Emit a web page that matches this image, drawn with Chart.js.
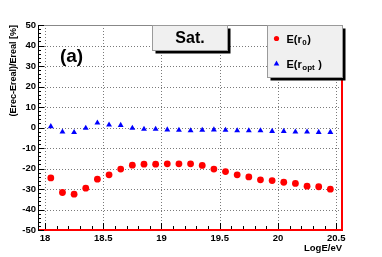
<!DOCTYPE html>
<html>
<head>
<meta charset="utf-8">
<script src="https://cdn.jsdelivr.net/npm/chart.js@4.4.1/dist/chart.umd.min.js"></script>
<style>
  html, body { margin: 0; padding: 0; background: #ffffff; }
  #wrap { width: 382px; height: 257px; }
</style>
</head>
<body>
<div id="wrap"><canvas id="c" width="382" height="257"></canvas></div>
<script>
// ---- data ----
const logE = [18.05, 18.15, 18.25, 18.35, 18.45, 18.55, 18.65, 18.75, 18.85, 18.95,
              19.05, 19.15, 19.25, 19.35, 19.45, 19.55, 19.65, 19.75, 19.85, 19.95,
              20.05, 20.15, 20.25, 20.35, 20.45];
const errR0 = [-24.6, -31.7, -32.5, -29.6, -25.2, -23.1, -20.3, -18.4, -17.9, -17.9,
               -17.7, -17.7, -17.7, -18.5, -20.3, -21.5, -23.1, -24.1, -25.5, -25.9,
               -26.7, -27.3, -28.6, -28.9, -30.1];
const errRopt = [0.5, -2.1, -2.4, -0.3, 2.3, 1.3, 1.1, -0.3, -0.8, -0.8,
                 -1.1, -1.3, -1.5, -1.3, -1.1, -1.3, -1.5, -1.5, -1.5, -1.8,
                 -1.8, -2.1, -2.1, -2.3, -2.3];
const xTickLabels = [18, 18.5, 19, 19.5, 20, 20.5];
const yTickLabels = [-50, -40, -30, -20, -10, 0, 10, 20, 30, 40, 50];
const xTitle = "LogE/eV";
const yTitle = "(Erec-Ereal)/Ereal [%]";
const panelLabel = "(a)";
const boxTitle = "Sat.";
const seriesNames = [{base: "E(r", sub: "0", tail: ")"}, {base: "E(r", sub: "opt", tail: " )"}];

const FONT = '"Liberation Sans", Arial, Helvetica, sans-serif';

const decor = {
  id: 'decor',
  beforeDraw(chart) {
    const ctx = chart.ctx;
    ctx.save();
    ctx.fillStyle = '#ffffff';
    ctx.fillRect(0, 0, chart.width, chart.height);
    ctx.restore();
  },
  beforeDatasetsDraw(chart) {
    const ctx = chart.ctx, a = chart.chartArea;
    const xs = chart.scales.x, ys = chart.scales.y;
    ctx.save();
    ctx.strokeStyle = '#7a7a7a';
    ctx.lineWidth = 1;
    ctx.setLineDash([1, 2]);
    xTickLabels.forEach(v => {
      const px = Math.round(xs.getPixelForValue(v)) + 0.5;
      ctx.beginPath(); ctx.moveTo(px, a.top); ctx.lineTo(px, a.bottom); ctx.stroke();
    });
    yTickLabels.forEach(v => {
      if (v === -50 || v === 50) return;
      const py = Math.round(ys.getPixelForValue(v)) + 0.5;
      ctx.beginPath(); ctx.moveTo(a.left, py); ctx.lineTo(a.right, py); ctx.stroke();
    });
    ctx.restore();
  },
  afterDatasetsDraw(chart) {
    const ctx = chart.ctx, a = chart.chartArea;
    const xs = chart.scales.x, ys = chart.scales.y;
    ctx.save();
    ctx.setLineDash([]);
    // frame
    ctx.strokeStyle = '#888888'; ctx.lineWidth = 1;
    ctx.beginPath(); ctx.moveTo(a.left, a.top + 0.5); ctx.lineTo(a.right, a.top + 0.5); ctx.stroke();
    ctx.strokeStyle = '#ff0000'; ctx.lineWidth = 2;
    ctx.beginPath(); ctx.moveTo(a.right, a.top); ctx.lineTo(a.right, a.bottom + 1); ctx.stroke();
    ctx.beginPath(); ctx.moveTo(a.left, a.bottom); ctx.lineTo(a.right + 1, a.bottom); ctx.stroke();
    ctx.strokeStyle = '#000000'; ctx.lineWidth = 1;
    ctx.beginPath(); ctx.moveTo(a.left + 0.5, a.top); ctx.lineTo(a.left + 0.5, a.bottom); ctx.stroke();
    // y ticks (inside)
    for (let v = -50; v <= 50; v += 2) {
      const py = Math.round(ys.getPixelForValue(v)) + 0.5;
      const len = (v % 10 === 0) ? 6 : 3;
      ctx.beginPath(); ctx.moveTo(a.left, py); ctx.lineTo(a.left + len, py); ctx.stroke();
    }
    // x ticks (inside, pointing up)
    for (let i = 0; i <= 25; i++) {
      const v = 18 + i * 0.1;
      const px = Math.round(xs.getPixelForValue(v)) + 0.5;
      const len = (i % 5 === 0) ? 6 : 3;
      ctx.beginPath(); ctx.moveTo(px, a.bottom - 1); ctx.lineTo(px, a.bottom - 1 - len); ctx.stroke();
    }
    // panel label
    ctx.fillStyle = '#000';
    ctx.font = 'bold 19px ' + FONT;
    ctx.textAlign = 'center'; ctx.textBaseline = 'middle';
    ctx.fillText(panelLabel, 71.5, 57);
    // title box
    const bx = 152.5, by = 25.5, bw = 75, bh = 25;
    ctx.fillStyle = '#000'; ctx.fillRect(bx + 3, by + 3, bw, bh);
    ctx.fillStyle = '#f0f0f0'; ctx.fillRect(bx, by, bw, bh);
    ctx.strokeStyle = '#9a9a9a'; ctx.lineWidth = 1; ctx.strokeRect(bx, by, bw, bh);
    ctx.fillStyle = '#000';
    ctx.font = 'bold 16px ' + FONT;
    ctx.textAlign = 'center'; ctx.textBaseline = 'middle';
    ctx.fillText(boxTitle, bx + bw / 2, by + bh / 2 + 1);
    // legend box
    const lx = 267.5, ly = 25.5, lw = 75, lh = 52;
    ctx.fillStyle = '#000'; ctx.fillRect(lx + 3, ly + 3, lw, lh);
    ctx.fillStyle = '#f0f0f0'; ctx.fillRect(lx, ly, lw, lh);
    ctx.strokeStyle = '#9a9a9a'; ctx.strokeRect(lx, ly, lw, lh);
    const rows = [38.5, 63.5];
    // markers
    ctx.fillStyle = '#ff0000';
    ctx.beginPath(); ctx.arc(276.5, rows[0], 2.6, 0, Math.PI * 2); ctx.fill();
    ctx.fillStyle = '#0000ff';
    ctx.beginPath();
    ctx.moveTo(276.5, rows[1] - 3); ctx.lineTo(279.3, rows[1] + 2); ctx.lineTo(273.7, rows[1] + 2); ctx.closePath(); ctx.fill();
    // legend texts with subscripts
    ctx.fillStyle = '#000'; ctx.textAlign = 'left'; ctx.textBaseline = 'alphabetic';
    seriesNames.forEach((s, i) => {
      let x = 286.5; const yb = rows[i] + 4;
      ctx.font = 'bold 11px ' + FONT;
      ctx.fillText(s.base, x, yb); x += ctx.measureText(s.base).width + 0.5;
      ctx.font = 'bold 8px ' + FONT;
      ctx.fillText(s.sub, x, yb + 2.5); x += ctx.measureText(s.sub).width + 0.5;
      ctx.font = 'bold 11px ' + FONT;
      ctx.fillText(s.tail, x, yb);
    });
    // axis titles
    ctx.font = 'bold 9.5px ' + FONT;
    ctx.textAlign = 'right'; ctx.textBaseline = 'alphabetic';
    ctx.fillText(xTitle, a.right, 251);
    ctx.save();
    ctx.translate(14, a.top);
    ctx.rotate(-Math.PI / 2);
    ctx.font = 'bold 9px ' + FONT;
    ctx.textAlign = 'right'; ctx.textBaseline = 'middle';
    ctx.fillText(yTitle, 0, 0);
    ctx.restore();
    ctx.restore();
  }
};

new Chart(document.getElementById('c'), {
  type: 'scatter',
  data: {
    datasets: [
      {
        label: 'E(r0)',
        data: logE.map((x, i) => ({x: x, y: errR0[i]})),
        backgroundColor: '#ff0000', borderColor: '#ff0000',
        pointStyle: 'circle', pointRadius: 3.4, borderWidth: 0, pointHoverRadius: 3.4
      },
      {
        label: 'E(ropt)',
        data: logE.map((x, i) => ({x: x, y: errRopt[i]})),
        backgroundColor: '#0000ff', borderColor: '#0000ff',
        pointStyle: 'triangle', pointRadius: 3.4, borderWidth: 0, pointHoverRadius: 3.4
      }
    ]
  },
  options: {
    responsive: false,
    animation: false,
    devicePixelRatio: 1,
    layout: { padding: { top: 25, right: 40, left: 0, bottom: 0 } },
    plugins: { legend: { display: false }, tooltip: { enabled: false } },
    scales: {
      x: {
        type: 'linear', min: 17.94, max: 20.55,
        afterFit(s) { s.height = 27; },
        afterBuildTicks(s) { s.ticks = xTickLabels.map(v => ({value: v})); },
        grid: { display: false, drawTicks: false },
        border: { display: false },
        ticks: {
          padding: 3, color: '#000', maxRotation: 0, autoSkip: false,
          font: { family: FONT, weight: 'bold', size: 9.5 },
          callback: v => String(v)
        }
      },
      y: {
        type: 'linear', min: -50, max: 50,
        afterFit(s) { s.width = 38; },
        afterBuildTicks(s) { s.ticks = yTickLabels.map(v => ({value: v})); },
        grid: { display: false, drawTicks: false },
        border: { display: false },
        ticks: {
          padding: 2, color: '#000', autoSkip: false,
          font: { family: FONT, weight: 'bold', size: 9.5 },
          callback: v => String(v)
        }
      }
    }
  },
  plugins: [decor]
});
</script>
</body>
</html>
